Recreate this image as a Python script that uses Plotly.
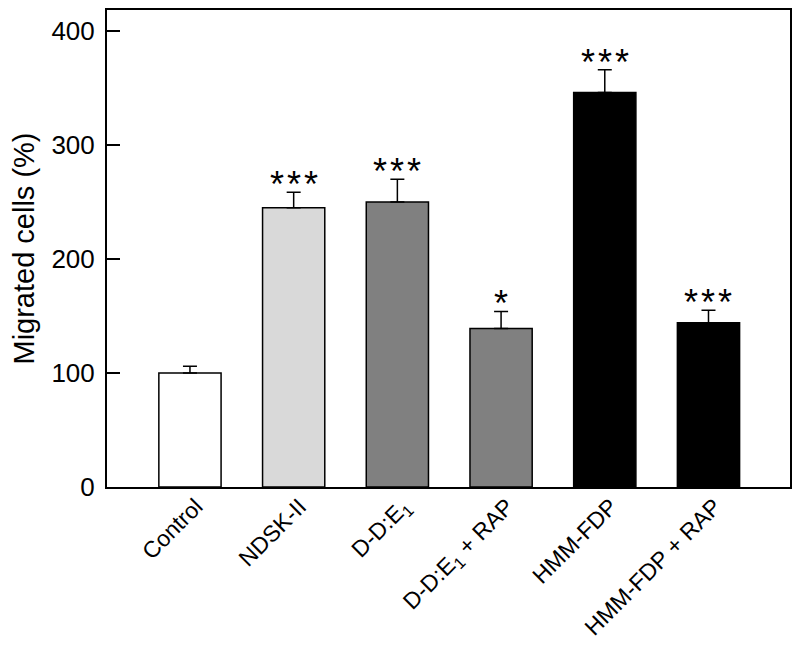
import plotly.graph_objects as go

categories = ["Control", "NDSK-II", "D-D:E<sub>1</sub>", "D-D:E<sub>1</sub> + RAP", "HMM-FDP", "HMM-FDP + RAP"]
values = [100, 245, 250, 139, 346, 144]
errors = [6, 13.5, 20, 15, 20, 11]
significance = ["", "***", "***", "*", "***", "***"]
bar_colors = ["#ffffff", "#d9d9d9", "#808080", "#808080", "#000000", "#000000"]
y_ticks = [0, 100, 200, 300, 400]

x = list(range(len(categories)))
HS = "\u200a"

fig = go.Figure()
fig.add_trace(go.Bar(
    x=x, y=values, width=0.6,
    marker=dict(color=bar_colors, line=dict(color="black", width=1.5)),
    error_y=dict(type="data", symmetric=False, array=errors,
                 arrayminus=[0] * len(errors), color="black", thickness=1.5, width=7),
    showlegend=False,
))

for xi, v, e, s in zip(x, values, errors, significance):
    if s:
        fig.add_annotation(x=xi, y=v + e, text=HS.join(s), showarrow=False,
                           yanchor="bottom", yshift=-15,
                           font=dict(family="Arial, Liberation Sans", size=36, color="black"))

fig.update_layout(
    width=784, height=650,
    margin=dict(l=99, r=2, t=2, b=171),
    plot_bgcolor="white", paper_bgcolor="white",
    font=dict(family="Arial, Liberation Sans", size=26, color="black"),
    bargap=0.4,
)
fig.update_xaxes(
    range=[-0.8, 5.786], tickmode="array", tickvals=x, ticktext=categories,
    tickangle=-45, showline=True, linecolor="black", linewidth=2, mirror=True,
    ticks="", showgrid=False, zeroline=False, automargin=False,
    tickfont=dict(size=23), ticklabelshift=6, ticklabelstandoff=-5,
)
fig.update_yaxes(
    range=[0, 418.4], tickmode="array", tickvals=y_ticks,
    ticks="inside", ticklen=13, tickwidth=2, tickcolor="black",
    showline=True, linecolor="black", linewidth=2, mirror=True,
    showgrid=False, zeroline=False, ticklabelstandoff=5, automargin=False,
    tickfont=dict(size=26),
    title=dict(text="Migrated cells (%)", standoff=16, font=dict(size=29)),
)

fig.write_html("out.html")
